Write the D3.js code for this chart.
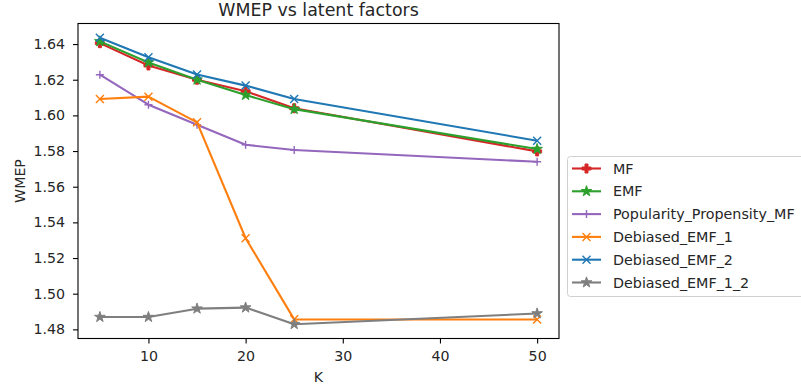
<!DOCTYPE html>
<head>
  <meta charset="utf-8">
  <script src="https://d3js.org/d3.v7.min.js"></script>
  <style>
    body { margin: 0; background: #fff; }
    text { font-family: "DejaVu Sans", sans-serif; fill: #262626; }
  </style>
</head>
<body>
<script>
  // data
  var K = [5, 10, 15, 20, 25, 50];
  var seriesNames = ["MF", "EMF", "Popularity_Propensity_MF", "Debiased_EMF_1", "Debiased_EMF_2", "Debiased_EMF_1_2"];
  var mf = [1.6405, 1.628, 1.620, 1.6135, 1.604, 1.5798];
  var emf = [1.6415, 1.6297, 1.6200, 1.6114, 1.6035, 1.5811];
  var popularity = [1.6228, 1.606, 1.5948, 1.5835, 1.5806, 1.5740];
  var debiased1 = [1.6092, 1.6105, 1.5961, 1.5311, 1.4856, 1.4855];
  var debiased2 = [1.6435, 1.6326, 1.6229, 1.6167, 1.6092, 1.5858];
  var debiased12 = [1.4869, 1.4869, 1.4916, 1.4922, 1.4829, 1.4889];
  var xTicks = [10, 20, 30, 40, 50];
  var yTicks = [1.48, 1.50, 1.52, 1.54, 1.56, 1.58, 1.60, 1.62, 1.64];

  var colors = ["#d62728", "#2ca02c", "#9467bd", "#ff7f0e", "#1f77b4", "#7f7f7f"];
  var markers = ["P", "star", "plus", "x", "x", "star"];
  var allValues = [mf, emf, popularity, debiased1, debiased2, debiased12];

  var W = 801, H = 387;
  var plotLeft = 78, plotRight = 559, plotTop = 23.5, plotBottom = 338.5;

  var svg = d3.select("body").append("svg")
      .attr("width", W)
      .attr("height", H);

  // matplotlib style 5% margins
  var xr = d3.extent(K), yr = d3.extent(d3.merge(allValues));
  var xp = (xr[1] - xr[0]) * 0.05, yp = (yr[1] - yr[0]) * 0.05;

  var x = d3.scaleLinear()
      .domain([xr[0] - xp, xr[1] + xp])
      .range([plotLeft, plotRight]);
  var y = d3.scaleLinear()
      .domain([yr[0] - yp, yr[1] + yp])
      .range([plotBottom, plotTop]);

  // axes
  var xAxis = svg.append("g")
      .attr("transform", "translate(0," + plotBottom + ")")
      .call(d3.axisBottom(x).tickValues(xTicks).tickSize(5).tickPadding(7).tickFormat(d3.format("d")));
  var yAxis = svg.append("g")
      .attr("transform", "translate(" + plotLeft + ",0)")
      .call(d3.axisLeft(y).tickValues(yTicks).tickSize(5).tickPadding(8).tickFormat(d3.format(".2f")));

  [xAxis, yAxis].forEach(function(a) {
    a.select(".domain").remove();
    a.selectAll("line").attr("stroke", "#000").attr("stroke-width", 1.1);
    a.selectAll("text").style("font-size", "14.2px").attr("fill", "#262626").style("font-family", "DejaVu Sans");
  });

  // frame
  svg.append("rect")
      .attr("x", plotLeft).attr("y", plotTop)
      .attr("width", plotRight - plotLeft).attr("height", plotBottom - plotTop)
      .attr("fill", "none").attr("stroke", "#000").attr("stroke-width", 1.1);

  function markerPath(type, s) {
    if (type == "star") return d3.symbol().type(d3.symbolStar).size(s * s * 0.55)();
    if (type == "P") return d3.symbol().type(d3.symbolCross).size(s * s * 0.7)();
    var h = s / 2;
    if (type == "plus") return "M" + (-h) + ",0L" + h + ",0M0," + (-h) + "L0," + h;
    return "M" + (-h) + "," + (-h) + "L" + h + "," + h + "M" + (-h) + "," + h + "L" + h + "," + (-h);
  }

  function drawMarker(g, type, color, cx, cy) {
    var filled = (type == "star" || type == "P");
    g.append("path")
      .attr("d", markerPath(type, 8))
      .attr("transform", "translate(" + cx + "," + cy + ")")
      .attr("fill", filled ? color : "none")
      .attr("stroke", color)
      .attr("stroke-width", filled ? 1 : 1.4);
  }

  var line = d3.line()
      .x(function(d) { return x(d[0]); })
      .y(function(d) { return y(d[1]); });

  var plot = svg.append("g");
  allValues.forEach(function(vals, i) {
    var pts = K.map(function(k, j) { return [k, vals[j]]; });
    var g = plot.append("g");
    g.append("path")
      .datum(pts)
      .attr("fill", "none")
      .attr("stroke", colors[i])
      .attr("stroke-width", 2.1)
      .attr("stroke-linejoin", "round")
      .attr("d", line);
    pts.forEach(function(p) {
      drawMarker(g, markers[i], colors[i], x(p[0]), y(p[1]));
    });
  });

  // titles
  svg.append("text")
      .attr("x", (plotLeft + plotRight) / 2).attr("y", 16)
      .attr("text-anchor", "middle")
      .style("font-size", "17.4px")
      .text("WMEP vs latent factors");
  svg.append("text")
      .attr("x", (plotLeft + plotRight) / 2).attr("y", 382)
      .attr("text-anchor", "middle")
      .style("font-size", "14.2px")
      .text("K");
  svg.append("text")
      .attr("transform", "translate(25," + ((plotTop + plotBottom) / 2) + ")rotate(-90)")
      .attr("text-anchor", "middle")
      .style("font-size", "14.2px")
      .text("WMEP");

  // legend
  var legend = svg.append("g");
  legend.append("rect")
      .attr("x", 567.5).attr("y", 156.5)
      .attr("width", 240).attr("height", 140)
      .attr("rx", 3)
      .attr("fill", "#fff").attr("fill-opacity", 0.8)
      .attr("stroke", "#d0d0d0").attr("stroke-width", 1);
  seriesNames.forEach(function(name, i) {
    var ly = 168.5 + i * 22.8;
    legend.append("line")
      .attr("x1", 572).attr("x2", 601)
      .attr("y1", ly).attr("y2", ly)
      .attr("stroke", colors[i]).attr("stroke-width", 2.1);
    drawMarker(legend, markers[i], colors[i], 586.5, ly);
    legend.append("text")
      .attr("x", 613).attr("y", ly + 5)
      .style("font-size", "14.3px")
      .text(name);
  });
</script>
</body>
